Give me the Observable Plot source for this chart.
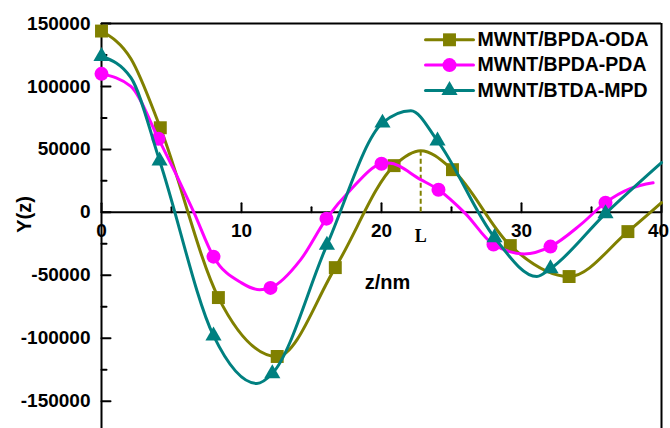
<!DOCTYPE html>
<html><head><meta charset="utf-8">
<script src="https://cdn.jsdelivr.net/npm/d3@7"></script>
<script src="https://cdn.jsdelivr.net/npm/@observablehq/plot@0.6"></script>
<style>body{margin:0;background:#fff} svg{display:block}</style>
</head><body><div id="chart"></div>
<script>
const seriesNames = ["MWNT/BPDA-ODA", "MWNT/BPDA-PDA", "MWNT/BTDA-MPD"];
const seriesColors = ["#808000", "#ff00ff", "#008080"];
const seriesSymbols = ["square", "circle", "triangle"];
const seriesR = [7.3, 7, 6];

// curve key points
const odaCurveZ = [0, 2.1, 4.2, 8.35, 12.55, 16.7, 20.9, 22.8, 25.07, 29.2, 33.4, 37.6, 40];
const odaCurveV = [144000, 122000, 67200, -67700, -114500, -43900, 37100, 49000, 33900, -26400, -51000, -15300, 7700];
const pdaCurveZ = [0, 2.1, 4.07, 6.6, 8.0, 10, 11.3, 12.07, 14.2, 16.07, 17.8, 20.0, 20.5, 22.8, 24.07, 26, 28, 30.2, 32.07, 34.2, 36, 37.8, 39.4];
const pdaCurveV = [110000, 100000, 58500, 0, -35200, -56000, -61500, -60000, -38000, -5000, 18000, 38600, 39200, 26000, 18000, -1000, -25600, -33000, -27200, -10000, 7700, 19000, 23500];
const mpdCurveZ = [0, 2.1, 4.15, 8.0, 11.1, 12.2, 16.1, 20.07, 22.1, 24.0, 28.07, 31.1, 32.07, 36, 40];
const mpdCurveV = [124000, 107000, 41000, -98000, -136000, -128000, -26000, 71000, 80700, 56800, -20000, -51000, -44700, -1000, 39500];

// marker points
const odaMarkZ = [0, 4.2, 8.35, 12.55, 16.7, 20.9, 25.07, 29.2, 33.4, 37.6];
const odaMarkV = [144000, 67200, -67700, -114500, -43900, 37100, 33900, -26400, -51000, -15300];
const pdaMarkZ = [0, 4.07, 8.0, 12.07, 16.07, 20.0, 24.07, 28, 32.07, 36];
const pdaMarkV = [110000, 58500, -35200, -60000, -5000, 38600, 18000, -25600, -27200, 7700];
const mpdMarkZ = [0, 4.15, 8.0, 12.2, 16.1, 20.07, 24.0, 28.07, 32.07, 36];
const mpdMarkV = [124000, 41000, -98000, -128000, -26000, 71000, 56800, -20000, -44700, -1000];

const peakL = {z: 22.8, v: 49000, label: "L"};

const xMajorTicks = [0, 10, 20, 30, 40];
const xMinorTicks = [5, 15, 25, 35];
const xTickLabels = ["0", "10", "20", "30", "40"];
const yMajorTicks = [150000, 100000, 50000, 0, -50000, -100000, -150000];
const yMinorTicks = [125000, 75000, 25000, -25000, -75000, -125000];
const yTickLabels = ["150000", "100000", "50000", "0", "-50000", "-100000", "-150000"];
const xTitle = "z/nm";
const yTitle = "Y(z)";

const curves = [[odaCurveZ, odaCurveV], [pdaCurveZ, pdaCurveV], [mpdCurveZ, mpdCurveV]];
const marks = [[odaMarkZ, odaMarkV], [pdaMarkZ, pdaMarkV], [mpdMarkZ, mpdMarkV]];

const font = "'Liberation Sans', Arial, sans-serif";
const lineShape = {draw(ctx, l) { ctx.moveTo(0, 0); ctx.lineTo(0, -l); }};

const markList = [];
// frame & axes lines
markList.push(Plot.ruleY([150000], {stroke: "#000", strokeWidth: 2}));
markList.push(Plot.ruleX([40], {stroke: "#000", strokeWidth: 2}));
markList.push(Plot.ruleX([0], {stroke: "#000", strokeWidth: 2}));
markList.push(Plot.ruleY([0], {stroke: "#000", strokeWidth: 2}));
// ticks (inward)
markList.push(Plot.vector(yMajorTicks, {x: () => 0, y: d => d, length: 9, rotate: 90, anchor: "start", shape: lineShape, stroke: "#000", strokeWidth: 2}));
markList.push(Plot.vector(yMinorTicks, {x: () => 0, y: d => d, length: 5, rotate: 90, anchor: "start", shape: lineShape, stroke: "#000", strokeWidth: 2}));
markList.push(Plot.vector(xMajorTicks, {x: d => d, y: () => 0, length: 9, rotate: 0, anchor: "start", shape: lineShape, stroke: "#000", strokeWidth: 2}));
markList.push(Plot.vector(xMinorTicks, {x: d => d, y: () => 0, length: 5, rotate: 0, anchor: "start", shape: lineShape, stroke: "#000", strokeWidth: 2}));
// tick labels
markList.push(Plot.text(yMajorTicks, {x: () => 0, y: d => d, text: (d, i) => yTickLabels[i], dx: -11, textAnchor: "end", lineAnchor: "middle", fontSize: 19, fontWeight: "bold", fontFamily: font, fill: "#000"}));
markList.push(Plot.text(xMajorTicks.slice(0, -1), {x: d => d, y: () => 0, text: (d, i) => xTickLabels[i], dy: 18.5, textAnchor: "middle", lineAnchor: "middle", fontSize: 19, fontWeight: "bold", fontFamily: font, fill: "#000"}));
markList.push(Plot.text(xMajorTicks.slice(-1), {x: d => d, y: () => 0, text: () => xTickLabels[xTickLabels.length - 1], dy: 18.5, dx: -3, textAnchor: "middle", lineAnchor: "middle", fontSize: 19, fontWeight: "bold", fontFamily: font, fill: "#000"}));
// titles
markList.push(Plot.text([xTitle], {frameAnchor: "top-left", dx: 286, dy: 258.6, text: d => d, textAnchor: "middle", lineAnchor: "middle", fontSize: 20, fontWeight: "bold", fontFamily: font, fill: "#000"}));
markList.push(Plot.text([yTitle], {frameAnchor: "top-left", dx: -77, dy: 191, text: d => d, rotate: -90, textAnchor: "middle", lineAnchor: "middle", fontSize: 20, fontWeight: "bold", fontFamily: font, fill: "#000"}));
// L marker
markList.push(Plot.ruleX([peakL], {x: "z", y1: () => 0, y2: "v", stroke: "#808000", strokeWidth: 2, strokeDasharray: "5,3"}));
markList.push(Plot.text([peakL], {x: "z", y: () => 0, text: "label", dy: 24.2, textAnchor: "middle", lineAnchor: "middle", fontSize: 18, fontWeight: "bold", fontFamily: "'Liberation Serif', 'Times New Roman', serif", fill: "#000"}));

// series
seriesNames.forEach((name, i) => {
  const [cz, cv] = curves[i];
  const [mz, mv] = marks[i];
  markList.push(Plot.line(cz.map((z, k) => ({z, v: cv[k]})), {x: "z", y: "v", curve: "monotone-x", stroke: seriesColors[i], strokeWidth: 3}));
  markList.push(Plot.dot(mz.map((z, k) => ({z, v: mv[k]})), {x: "z", y: "v", symbol: seriesSymbols[i], r: seriesR[i], fill: seriesColors[i], stroke: "none"}));
});

// legend
seriesNames.forEach((name, i) => {
  const dy = 16.3 + 25.3 * i;
  markList.push(Plot.vector([name], {frameAnchor: "top-left", dx: 348, dy, length: 48, rotate: 90, anchor: "middle", shape: lineShape, stroke: seriesColors[i], strokeWidth: 3}));
  markList.push(Plot.dot([name], {frameAnchor: "top-left", dx: 348, dy, symbol: seriesSymbols[i], r: seriesR[i], fill: seriesColors[i], stroke: "none"}));
  markList.push(Plot.text([name], {frameAnchor: "top-left", dx: 376, dy, text: d => d, textAnchor: "start", lineAnchor: "middle", fontSize: 19.5, fontWeight: "bold", fontFamily: font, fill: "#000"}));
});

const chart = Plot.plot({
  width: 670,
  height: 428,
  marginTop: 23,
  marginBottom: 0,
  marginLeft: 101,
  marginRight: 9,
  x: {domain: [0, 40], axis: null},
  y: {domain: [-171700, 150000], axis: null},
  style: {background: "#fff", fontFamily: font},
  marks: markList
});
document.getElementById("chart").appendChild(chart);
</script>
</body></html>
